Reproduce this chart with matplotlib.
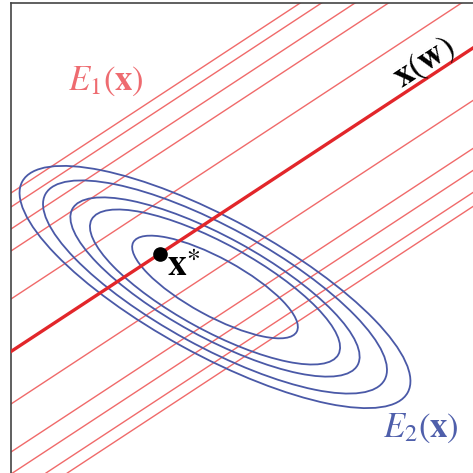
import numpy as np
import matplotlib
matplotlib.use('Agg')
import matplotlib.pyplot as plt
from matplotlib.patches import Ellipse

plt.rcParams['mathtext.fontset'] = 'stix'
plt.rcParams['font.family'] = 'STIXGeneral'

# Constraint line x(w): intercept at the left edge and slope
line_intercept = 121.5
line_slope = 0.657

# Vertical offsets of the E1 level lines either side of x(w)
e1_offsets = [52.5, 100.5, 122.5, 144.5, 158.5]

# E2 level ellipses: centre, outer semi-axes, tilt, relative sizes
e2_center = (204.0, 186.0)
e2_semi_axes = (219.7, 67.8)
e2_angle = -28.7
e2_scales = [0.424, 0.64, 0.74, 0.88, 1.0]

# Optimum on the constraint line
xstar_x = 149.0

thin_red = '#f06a6a'
thick_red = '#e2262a'
blue = '#4a59a7'

fig = plt.figure(figsize=(4.73, 4.73), dpi=100)
ax = fig.add_axes([11 / 473, 0, 462 / 473, 470 / 473])
ax.set_xlim(0, 462)
ax.set_ylim(0, 470)
ax.set_xticks([])
ax.set_yticks([])
for side in ['right', 'bottom']:
    ax.spines[side].set_visible(False)
for side in ['left', 'top']:
    ax.spines[side].set_color('#444444')
    ax.spines[side].set_linewidth(1.2)

# E1 level lines (parallel to the constraint line)
for off in e1_offsets:
    for sign in (-1, 1):
        ax.axline((0, line_intercept + sign * off), slope=line_slope,
                  color=thin_red, lw=1.0, zorder=1)

# E2 ellipses
for s in e2_scales:
    ax.add_patch(Ellipse(e2_center, 2 * s * e2_semi_axes[0],
                         2 * s * e2_semi_axes[1], angle=e2_angle,
                         fill=False, edgecolor=blue, lw=1.3, zorder=2))

# Constraint line
ax.axline((0, line_intercept), slope=line_slope, color=thick_red,
          lw=2.4, zorder=3)

xstar_y = line_intercept + line_slope * xstar_x
ax.plot([xstar_x], [xstar_y], 'o', color='black', ms=9.5, zorder=4)
ax.text(xstar_x + 7, xstar_y - 22, r'$\mathbf{x}^{\ast}$', fontsize=27,
        ha='left', va='baseline', color='black')

ax.text(95, 392, r'$E_1(\mathbf{x})$', fontsize=25, color='#ee6b70',
        ha='center', va='center')
ax.text(410, 45, r'$E_2(\mathbf{x})$', fontsize=25, color='#4f5fab',
        ha='center', va='center')
ax.text(414, 410, r'$\mathbf{x}(\mathbf{w})$', fontsize=25, color='black',
        ha='center', va='center', rotation=33, rotation_mode='anchor')

fig.savefig('out.png', dpi=100)
